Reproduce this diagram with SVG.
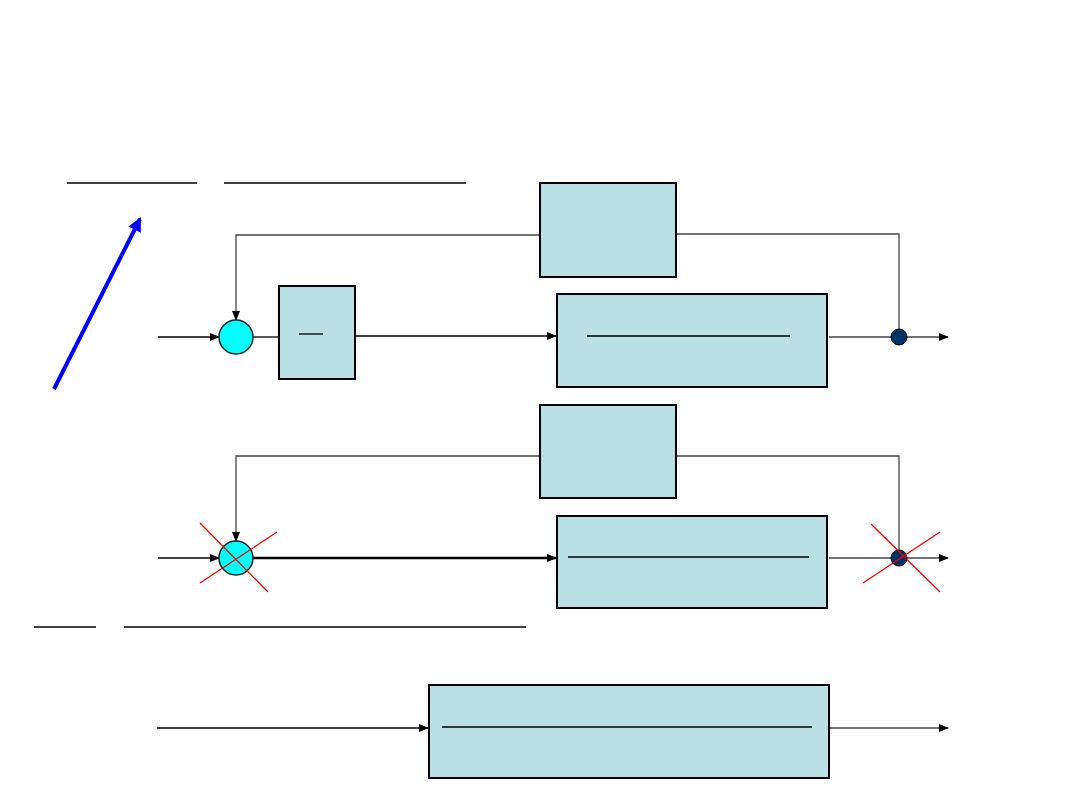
<svg xmlns="http://www.w3.org/2000/svg" width="1080" height="810" viewBox="0 0 1080 810">
<style>
.box{fill:#bae0e3;stroke:#000;stroke-width:2}
.sum{fill:#00ffff;stroke:#222;stroke-width:1.5}
.dot{fill:#003366;stroke:#000;stroke-width:1}
.ln{stroke:#000;stroke-width:1.3;fill:none}
.fb{stroke:#444;stroke-width:1.3;fill:none}
.x{stroke:#ff0000;stroke-width:1.3}
</style>
<defs>
<marker id="ah" markerWidth="10" markerHeight="8" refX="9" refY="4" orient="auto" markerUnits="userSpaceOnUse"><path d="M0,0 L10,4 L0,8 Z" fill="#000"/></marker>
<marker id="bh" markerWidth="14" markerHeight="14" refX="12" refY="7" orient="auto" markerUnits="userSpaceOnUse"><path d="M0,0 L14,7 L0,14 Z" fill="#0000ff"/></marker>
</defs>
<rect width="1080" height="810" fill="#fff"/>
<g id="underlines">
<line class="ln" x1="67" y1="183" x2="197" y2="183"/>
<line class="ln" x1="224" y1="183" x2="466" y2="183"/>
<line class="ln" x1="34" y1="627" x2="96" y2="627"/>
<line class="ln" x1="124" y1="627" x2="526" y2="627"/>
</g>
<g id="connectors">
<line x1="54" y1="389" x2="140" y2="219" stroke="#0000ff" stroke-width="4" marker-end="url(#bh)"/>
<line class="ln" x1="158" y1="337" x2="219" y2="337" marker-end="url(#ah)"/>
<polyline class="fb" points="540,235 236,235 236,320" marker-end="url(#ah)"/>
<line class="ln" x1="253" y1="337" x2="279" y2="337"/>
<line class="ln" x1="355" y1="336" x2="556" y2="336" marker-end="url(#ah)"/>
<line class="fb" x1="829" y1="337" x2="948" y2="337" marker-end="url(#ah)"/>
<polyline class="fb" points="676,234 899,234 899,329"/>
<line class="ln" x1="158" y1="558" x2="219" y2="558" marker-end="url(#ah)"/>
<polyline class="fb" points="540,456 236,456 236,541" marker-end="url(#ah)"/>
<line x1="253" y1="558" x2="556" y2="558" stroke="#000" stroke-width="2.5" marker-end="url(#ah)"/>
<line class="fb" x1="829" y1="558" x2="948" y2="558" marker-end="url(#ah)"/>
<polyline class="fb" points="676,456 899,456 899,550"/>
<line class="ln" x1="157" y1="728" x2="428" y2="728" marker-end="url(#ah)"/>
<line class="fb" x1="830" y1="728" x2="948" y2="728" marker-end="url(#ah)"/>
</g>
<g id="fb1"><rect class="box" x="540" y="183" width="136" height="94"/></g>
<g id="sum1"><circle class="sum" cx="236" cy="337" r="17"/></g>
<g id="ctrl1"><rect class="box" x="279" y="286" width="76" height="93"/><line class="ln" x1="299" y1="334" x2="323" y2="334"/></g>
<g id="plant1"><rect class="box" x="557" y="294" width="270" height="93"/><line class="ln" x1="587" y1="336" x2="790" y2="336"/></g>
<g id="dot1"><circle class="dot" cx="899" cy="337" r="8"/></g>
<g id="fb2"><rect class="box" x="540" y="405" width="136" height="93"/></g>
<g id="sum2"><circle class="sum" cx="236" cy="558" r="17"/></g>
<g id="plant2"><rect class="box" x="557" y="516" width="270" height="92"/><line class="ln" x1="568" y1="557" x2="809" y2="557"/></g>
<g id="dot2"><circle class="dot" cx="899" cy="558" r="8"/></g>
<g id="crosses">
<line class="x" x1="200" y1="523" x2="268" y2="592"/>
<line class="x" x1="200" y1="583" x2="277" y2="532"/>
<line class="x" x1="871" y1="524" x2="940" y2="592"/>
<line class="x" x1="863" y1="583" x2="940" y2="532"/>
</g>
<g id="plant3"><rect class="box" x="429" y="685" width="400" height="93"/><line class="ln" x1="442" y1="727" x2="812" y2="727"/></g>
</svg>
